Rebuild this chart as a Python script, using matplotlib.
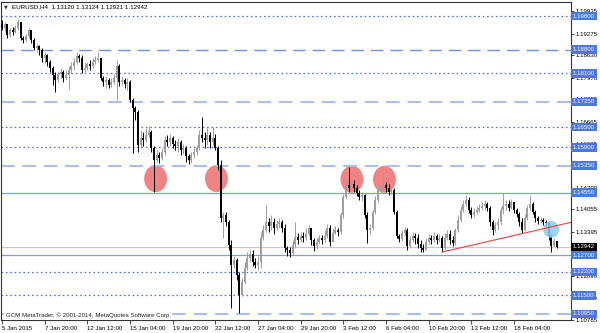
import numpy as np
import matplotlib
matplotlib.use("Agg")
import matplotlib.pyplot as plt
from matplotlib.patches import Ellipse
from matplotlib.transforms import blended_transform_factory

plt.rcParams['font.family'] = ['Liberation Sans', 'DejaVu Sans']

# EURUSD H4 bars, 5 Jan 2015 onwards
first_open = 1.1956
closes = [
    1.1944, 1.1956, 1.1924, 1.1938, 1.1932, 1.1944, 1.1962, 1.1915, 1.1909, 1.1921,
    1.1938, 1.1909, 1.1885, 1.1891, 1.1879, 1.1855, 1.1864, 1.1843, 1.1826, 1.1805,
    1.1790, 1.1808, 1.1814, 1.1796, 1.1805, 1.1820, 1.1832, 1.1843, 1.1861, 1.1855,
    1.1820, 1.1826, 1.1837, 1.1832, 1.1843, 1.1849, 1.1855, 1.1796, 1.1784, 1.1790,
    1.1775, 1.1784, 1.1796, 1.1832, 1.1784, 1.1790, 1.1778, 1.1784, 1.1730, 1.1707,
    1.1695, 1.1597, 1.1618, 1.1612, 1.1627, 1.1635, 1.1588, 1.1552, 1.1567, 1.1558,
    1.1576, 1.1612, 1.1606, 1.1618, 1.1600, 1.1594, 1.1606, 1.1582, 1.1588, 1.1564,
    1.1552, 1.1567, 1.1576, 1.1588, 1.1627, 1.1618, 1.1612, 1.1627, 1.1606, 1.1618,
    1.1588, 1.1537, 1.1380, 1.1389, 1.1368, 1.1300, 1.1240, 1.1255, 1.1211, 1.1151,
    1.1190, 1.1232, 1.1261, 1.1273, 1.1249, 1.1240, 1.1249, 1.1321, 1.1344, 1.1368,
    1.1356, 1.1368, 1.1350, 1.1362, 1.1368, 1.1350, 1.1291, 1.1285, 1.1276, 1.1300,
    1.1324, 1.1315, 1.1327, 1.1321, 1.1333, 1.1350, 1.1315, 1.1297, 1.1309, 1.1321,
    1.1315, 1.1327, 1.1350, 1.1309, 1.1335, 1.1344, 1.1338, 1.1389, 1.1442, 1.1478,
    1.1469, 1.1481, 1.1469, 1.1454, 1.1442, 1.1448, 1.1389, 1.1344, 1.1350, 1.1398,
    1.1433, 1.1463, 1.1475, 1.1478, 1.1469, 1.1457, 1.1463, 1.1398, 1.1327, 1.1318,
    1.1335, 1.1344, 1.1297, 1.1315, 1.1327, 1.1321, 1.1303, 1.1291, 1.1285, 1.1309,
    1.1321, 1.1315, 1.1327, 1.1315, 1.1321, 1.1291, 1.1321, 1.1333, 1.1315, 1.1306,
    1.1344, 1.1374, 1.1404, 1.1422, 1.1433, 1.1404, 1.1389, 1.1398, 1.1404, 1.1410,
    1.1416, 1.1422, 1.1410, 1.1368, 1.1344, 1.1359, 1.1368, 1.1404, 1.1416, 1.1422,
    1.1410, 1.1428, 1.1404, 1.1392, 1.1368, 1.1344, 1.1380, 1.1410, 1.1422, 1.1398,
    1.1380, 1.1371, 1.1374, 1.1368, 1.1365, 1.1327, 1.1297, 1.1312, 1.12942,
]
highs = [
    1.1968, 1.1962, 1.1956, 1.1944, 1.1947, 1.1953, 1.1971, 1.1962, 1.1921, 1.1927,
    1.1944, 1.1938, 1.1915, 1.1897, 1.1894, 1.1885, 1.1873, 1.1867, 1.1849, 1.1832,
    1.1814, 1.1814, 1.1826, 1.1820, 1.1820, 1.1832, 1.1843, 1.1855, 1.1873, 1.1867,
    1.1864, 1.1843, 1.1843, 1.1849, 1.1855, 1.1861, 1.1873, 1.1855, 1.1802, 1.1802,
    1.1796, 1.1796, 1.1808, 1.1849, 1.1837, 1.1802, 1.1796, 1.1796, 1.1790, 1.1736,
    1.1713, 1.1701, 1.1641, 1.1635, 1.1647, 1.1653, 1.1641, 1.1594, 1.1582, 1.1576,
    1.1588, 1.1624, 1.1627, 1.1630, 1.1624, 1.1612, 1.1618, 1.1612, 1.1600, 1.1594,
    1.1570, 1.1576, 1.1588, 1.1597, 1.1641, 1.1680, 1.1635, 1.1647, 1.1635, 1.1650,
    1.1630, 1.1594, 1.1552, 1.1398, 1.1398, 1.1374, 1.1315, 1.1267, 1.1261, 1.1220,
    1.1202, 1.1249, 1.1279, 1.1285, 1.1285, 1.1261, 1.1267, 1.1338, 1.1359, 1.1419,
    1.1380, 1.1389, 1.1380, 1.1374, 1.1380, 1.1374, 1.1362, 1.1297, 1.1294, 1.1315,
    1.1368, 1.1335, 1.1338, 1.1338, 1.1350, 1.1359, 1.1350, 1.1321, 1.1321, 1.1330,
    1.1330, 1.1344, 1.1362, 1.1359, 1.1350, 1.1356, 1.1350, 1.1398, 1.1451, 1.1493,
    1.1532, 1.1499, 1.1493, 1.1478, 1.1463, 1.1457, 1.1451, 1.1398, 1.1362, 1.1404,
    1.1445, 1.1475, 1.1484, 1.1532, 1.1487, 1.1481, 1.1475, 1.1469, 1.1404, 1.1333,
    1.1344, 1.1353, 1.1350, 1.1327, 1.1338, 1.1335, 1.1333, 1.1315, 1.1303, 1.1321,
    1.1333, 1.1330, 1.1338, 1.1333, 1.1333, 1.1327, 1.1335, 1.1344, 1.1344, 1.1327,
    1.1350, 1.1389, 1.1416, 1.1433, 1.1448, 1.1442, 1.1413, 1.1410, 1.1416, 1.1422,
    1.1428, 1.1433, 1.1428, 1.1416, 1.1374, 1.1368, 1.1380, 1.1413, 1.1454, 1.1433,
    1.1433, 1.1436, 1.1428, 1.1410, 1.1398, 1.1380, 1.1392, 1.1419, 1.1448, 1.1428,
    1.1404, 1.1386, 1.1383, 1.1380, 1.1374, 1.1368, 1.1333, 1.1321, 1.13124,
]
lows = [
    1.1938, 1.1932, 1.1915, 1.1918, 1.1924, 1.1929, 1.1938, 1.1909, 1.1900, 1.1903,
    1.1915, 1.1900, 1.1879, 1.1873, 1.1864, 1.1843, 1.1840, 1.1832, 1.1814, 1.1775,
    1.1754, 1.1784, 1.1796, 1.1784, 1.1790, 1.1763, 1.1811, 1.1820, 1.1837, 1.1843,
    1.1811, 1.1814, 1.1820, 1.1820, 1.1826, 1.1837, 1.1843, 1.1790, 1.1772, 1.1766,
    1.1766, 1.1769, 1.1778, 1.1730, 1.1772, 1.1775, 1.1766, 1.1760, 1.1725, 1.1573,
    1.1671, 1.1576, 1.1588, 1.1594, 1.1606, 1.1618, 1.1576, 1.1457, 1.1546, 1.1543,
    1.1552, 1.1567, 1.1594, 1.1594, 1.1588, 1.1582, 1.1576, 1.1567, 1.1570, 1.1546,
    1.1540, 1.1543, 1.1558, 1.1567, 1.1582, 1.1606, 1.1588, 1.1597, 1.1588, 1.1597,
    1.1582, 1.1523, 1.1368, 1.1321, 1.1356, 1.1285, 1.1113, 1.1232, 1.1196, 1.1098,
    1.1148, 1.1184, 1.1226, 1.1249, 1.1237, 1.1232, 1.1226, 1.1232, 1.1315, 1.1338,
    1.1338, 1.1344, 1.1333, 1.1344, 1.1350, 1.1338, 1.1279, 1.1267, 1.1264, 1.1270,
    1.1291, 1.1303, 1.1309, 1.1309, 1.1315, 1.1327, 1.1300, 1.1282, 1.1288, 1.1303,
    1.1303, 1.1309, 1.1321, 1.1297, 1.1315, 1.1333, 1.1327, 1.1333, 1.1380, 1.1436,
    1.1457, 1.1463, 1.1457, 1.1445, 1.1433, 1.1430, 1.1380, 1.1306, 1.1333, 1.1344,
    1.1392, 1.1428, 1.1454, 1.1463, 1.1457, 1.1448, 1.1451, 1.1392, 1.1321, 1.1309,
    1.1312, 1.1327, 1.1285, 1.1291, 1.1309, 1.1303, 1.1291, 1.1279, 1.1279, 1.1285,
    1.1303, 1.1303, 1.1309, 1.1303, 1.1309, 1.1279, 1.1285, 1.1315, 1.1303, 1.1297,
    1.1300, 1.1338, 1.1368, 1.1398, 1.1416, 1.1395, 1.1380, 1.1383, 1.1392, 1.1398,
    1.1404, 1.1404, 1.1401, 1.1356, 1.1330, 1.1338, 1.1344, 1.1359, 1.1392, 1.1404,
    1.1401, 1.1407, 1.1395, 1.1383, 1.1356, 1.1335, 1.1341, 1.1374, 1.1404, 1.1392,
    1.1368, 1.1362, 1.1365, 1.1359, 1.1356, 1.1315, 1.1279, 1.1297, 1.12921,
]
opens = [first_open] + closes[:-1]

time_labels = ["5 Jan 2015", "7 Jan 20:00", "12 Jan 12:00", "15 Jan 04:00", "19 Jan 20:00",
               "22 Jan 12:00", "27 Jan 04:00", "29 Jan 20:00", "3 Feb 12:00", "6 Feb 04:00",
               "10 Feb 20:00", "13 Feb 12:00", "18 Feb 04:00"]
label_step = 16

scale_ticks = [1.19935, 1.19275, 1.18630, 1.17970, 1.17325, 1.16665, 1.16005, 1.15360,
               1.14700, 1.14055, 1.13395, 1.12735, 1.12090, 1.11430, 1.10785]

dotted_levels = [1.19800, 1.18100, 1.16500, 1.15900, 1.12200, 1.11500]
dashed_levels = [1.18800]
light_dashed_levels = [1.17250, 1.15350, 1.10950]
solid_levels = [1.14550, 1.12700]

# ellipses drawn on the chart (bar index, price)
red_marks = [(57.6, 1.1497), (80.4, 1.1497), (131.2, 1.1495), (143.4, 1.1495)]
blue_mark = (205.9, 1.1346)
trend_pts = [(165, 1.1279), (199, 1.1341)]

title = "EURUSD,H4  1.13120 1.13124 1.12921 1.12942"
copyright = "GCM MetaTrader, \u00a9 2001-2014, MetaQuotes Software Corp."

fig = plt.figure(figsize=(6, 3.33), dpi=100)
ax = fig.add_axes([1 / 600, 13 / 333, 570 / 600, 318 / 333])
x0, x1 = -0.375, 213.35
ax.set_xlim(x0, x1)
ax.set_ylim(1.10771, 1.20216)

o = np.array(opens)
c = np.array(closes)
h = np.array(highs)
l = np.array(lows)
idx = np.arange(len(c))
bull = c >= o
cols = np.where(bull, '#9e9e9e', '#000000')

ax.vlines(idx, l, h, colors=cols, linewidth=0.7, zorder=3)
body_lo = np.minimum(o, c)
body_h = np.maximum(np.abs(c - o), 0.00008)
ax.bar(idx, body_h, bottom=body_lo, width=0.75, color=cols, linewidth=0, zorder=3)

# horizontal levels
for lv in dotted_levels:
    ax.axhline(lv, color='#4d70dc', linewidth=0.9, linestyle=(0, (1.3, 2.2)), zorder=2)
for lv in dashed_levels:
    ax.axhline(lv, color='#6f8fe4', linewidth=1.0, linestyle=(0, (9, 5)), zorder=2)
for lv in light_dashed_levels:
    ax.axhline(lv, color='#a8bdf0', linewidth=1.4, linestyle=(0, (7, 4)), zorder=2)
for lv in solid_levels:
    ax.axhline(lv, color='#7d9de8', linewidth=0.9, zorder=2)
ax.axhline(closes[-1], color='#c8c8c8', linewidth=0.8, zorder=2)

for cx, cy in red_marks:
    ax.add_patch(Ellipse((cx, cy), 8.6, 0.0080, facecolor='#f08484', edgecolor='none', zorder=1))
ax.add_patch(Ellipse(blue_mark, 6.0, 0.0050, facecolor='#8ccdf0', edgecolor='none', zorder=4, alpha=0.85))

# trend line as a ray to the right edge
(ta, pa), (tb, pb) = trend_pts
slope = (pb - pa) / (tb - ta)
ax.plot([ta, x1], [pa, pa + slope * (x1 - ta)], color='#ff3b3b', linewidth=0.8, zorder=5)

# axes
ax.set_xticks(idx[::label_step][:len(time_labels)])
ax.set_xticklabels(time_labels, ha='left', fontsize=4.4)
ax.tick_params(axis='x', length=3, width=0.5, pad=1)
ax.yaxis.tick_right()
ax.set_yticks(scale_ticks)
ax.set_yticklabels([f"{v:.5f}" for v in scale_ticks], fontsize=4.4)
ax.tick_params(axis='y', length=2, width=0.5, pad=1.5)
for sp in ax.spines.values():
    sp.set_linewidth(0.8)
    sp.set_color('#333333')

tr = blended_transform_factory(ax.transAxes, ax.transData)
for lv in dotted_levels + dashed_levels + light_dashed_levels + solid_levels:
    ax.text(1.003, lv, f"{lv:.5f}", transform=tr, fontsize=4.4, color='white',
            ha='left', va='center', clip_on=False, zorder=6,
            bbox=dict(boxstyle='square,pad=0.3', facecolor='#4a78e2', edgecolor='none'))
ax.text(1.003, closes[-1], f"{closes[-1]:.5f}", transform=tr, fontsize=4.4, color='white',
        ha='left', va='center', clip_on=False, zorder=6,
        bbox=dict(boxstyle='square,pad=0.3', facecolor='black', edgecolor='none'))

ax.text(0.006, 0.985, "\u25bc", transform=ax.transAxes, fontsize=3.5, color='#333333',
        ha='left', va='center', family='DejaVu Sans')
ax.text(0.02, 0.985, title, transform=ax.transAxes, fontsize=4.5, color='black',
        ha='left', va='center')
ax.text(0.008, 0.014, copyright, transform=ax.transAxes, fontsize=4.4, color='#222222',
        ha='left', va='center', zorder=6,
        bbox=dict(boxstyle='square,pad=0.2', facecolor='white', edgecolor='none'))

fig.savefig("out.png", dpi=100)
